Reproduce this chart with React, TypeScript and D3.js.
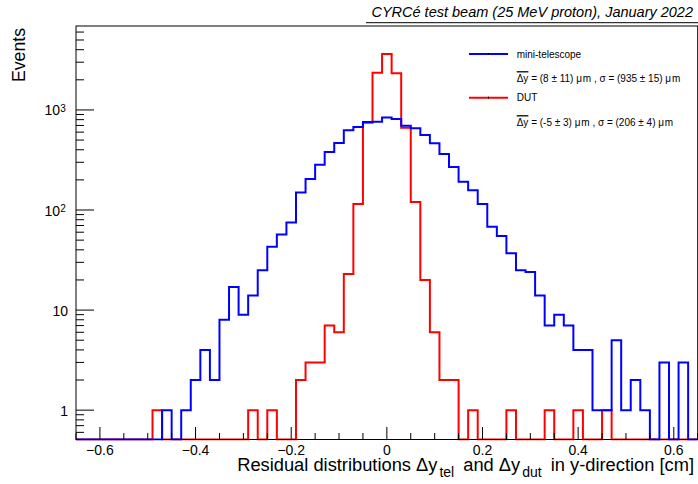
import React from "react";
import * as d3 from "d3";

// Bin centres (bin width 0.02 cm), from -0.64 to 0.64
const binCenters: number[] = [
  -0.64, -0.62, -0.6, -0.58, -0.56, -0.54, -0.52, -0.5, -0.48, -0.46, -0.44, -0.42, -0.4,
  -0.38, -0.36, -0.34, -0.32, -0.3, -0.28, -0.26, -0.24, -0.22, -0.2, -0.18, -0.16, -0.14,
  -0.12, -0.1, -0.08, -0.06, -0.04, -0.02, 0, 0.02, 0.04, 0.06, 0.08, 0.1, 0.12, 0.14, 0.16,
  0.18, 0.2, 0.22, 0.24, 0.26, 0.28, 0.3, 0.32, 0.34, 0.36, 0.38, 0.4, 0.42, 0.44, 0.46, 0.48,
  0.5, 0.52, 0.54, 0.56, 0.58, 0.6, 0.62, 0.64,
];
const binWidth = 0.02;

// mini-telescope residuals (blue)
const telescopeCounts: number[] = [
  0, 0, 0, 0, 0, 0, 0, 0, 0, 1, 0, 1, 2,
  4, 2, 8, 17, 9, 14, 25, 43, 57, 75, 150, 204, 284,
  380, 468, 627, 676, 759, 764, 840, 813, 697, 656, 562, 464, 363, 269, 192,
  158, 115, 68, 55, 37, 25, 24, 14, 7, 9, 7, 4, 4, 1, 1, 5,
  1, 2, 1, 0, 3, 0, 3, 0,
];

// DUT residuals (red)
const dutCounts: number[] = [
  0, 0, 0, 0, 0, 0, 0, 0, 1, 0, 0, 0, 0,
  0, 0, 0, 0, 0, 1, 0, 1, 0, 0, 2, 3, 3,
  7, 6, 23, 115, 746, 2360, 3630, 2327, 665, 120, 20, 6, 2, 2, 0,
  1, 0, 0, 0, 1, 0, 0, 0, 1, 0, 0, 1, 0, 0, 1, 0,
  0, 0, 0, 0, 0, 0, 0, 0,
];

const xTicks: number[] = [-0.6, -0.4, -0.2, 0, 0.2, 0.4, 0.6];
const xMinorTicks: number[] = [
  -0.65, -0.55, -0.5, -0.45, -0.35, -0.3, -0.25, -0.15, -0.1, -0.05,
  0.05, 0.1, 0.15, 0.25, 0.3, 0.35, 0.45, 0.5, 0.55, 0.65,
];
const yMajorTicks: number[] = [1, 10, 100, 1000];
const yMajorLabels: { base: string; exp: string }[] = [
  { base: "1", exp: "" },
  { base: "10", exp: "" },
  { base: "10", exp: "2" },
  { base: "10", exp: "3" },
];
const yMinorTicks: number[] = [
  0.6, 0.7, 0.8, 0.9, 2, 3, 4, 5, 6, 7, 8, 9, 20, 30, 40, 50, 60, 70, 80, 90,
  200, 300, 400, 500, 600, 700, 800, 900, 2000, 3000, 4000, 5000, 6000,
];

const titleText = "CYRCé test beam (25 MeV proton), January 2022";
const seriesNames = ["mini-telescope", "DUT"];
const statsTel = { mean: "(8 ± 11)", sigma: "(935 ± 15)" };
const statsDut = { mean: "(-5 ± 3)", sigma: "(206 ± 4)" };

const FONT = "'Liberation Sans', Arial, Helvetica, sans-serif";

export default function App() {
  const W = 698;
  const H = 484;
  const left = 76;
  const right = 697.7;
  const top = 26;
  const bottom = 439.5;

  const x = d3.scaleLinear().domain([-0.65, 0.65]).range([left, right]);
  const y = d3.scaleLog().domain([0.509, 6900]).range([bottom, top]);

  const stepPath = (counts: number[]) => {
    const pts: [number, number][] = [];
    counts.forEach((v, i) => {
      const c = binCenters[i];
      const yy = v > 0 ? y(v) : bottom;
      pts.push([x(c - binWidth / 2), yy]);
      pts.push([x(c + binWidth / 2), yy]);
    });
    return d3.line()(pts) as string;
  };

  const legendItem = (
    yLine: number,
    color: string,
    name: string,
    stats: { mean: string; sigma: string },
    yStats: number
  ) => (
    <g>
      <line x1={469} x2={508} y1={yLine} y2={yLine} stroke={color} strokeWidth={2} />
      <line x1={488.5} x2={488.5} y1={yLine - 1} y2={yLine + 1} stroke="#000" strokeWidth={1} />
      <text x={516.7} y={yLine + 3.5} fontSize={10} fontFamily={FONT} fill="#000">
        {name}
      </text>
      <text x={516.7} y={yStats + 3.5} fontSize={10} fontFamily={FONT} fill="#000">
        {`Δy = ${stats.mean} μ`}
        <tspan dx={0.8}>m</tspan>
        {` , σ = ${stats.sigma} μ`}
        <tspan dx={0.8}>m</tspan>
      </text>
      <line x1={516.7} x2={528.4} y1={yStats - 6.5} y2={yStats - 6.5} stroke="#000" strokeWidth={1.3} />
    </g>
  );

  return (
    <svg
      width={W}
      height={H}
      viewBox={`0 0 ${W} ${H}`}
      style={{ position: "absolute", left: 0, top: 0, background: "#fff" }}
    >
      <rect x={0} y={0} width={W} height={H} fill="#fff" />
      <defs>
        <clipPath id="plotclip">
          <rect x={left} y={top - 1} width={right - left} height={bottom - top + 2} />
        </clipPath>
      </defs>

      {/* title */}
      <text
        x={693}
        y={17}
        textAnchor="end"
        fontSize={14.5}
        fontStyle="italic"
        fontFamily={FONT}
        fill="#000"
      >
        {titleText}
      </text>
      <line x1={366} x2={698} y1={22.7} y2={22.7} stroke="#000" strokeWidth={1} />

      {/* histograms */}
      <g clipPath="url(#plotclip)">
        <path d={stepPath(dutCounts)} fill="none" stroke="#ff0000" strokeWidth={2} />
        <path d={stepPath(telescopeCounts)} fill="none" stroke="#0000ff" strokeWidth={2} />
      </g>

      {/* frame */}
      <rect
        x={left}
        y={top}
        width={right - left}
        height={bottom - top}
        fill="none"
        stroke="#000"
        strokeWidth={1}
      />

      {/* x axis ticks */}
      {xTicks.map((t) => (
        <g key={`xt${t}`}>
          <line x1={x(t)} x2={x(t)} y1={bottom} y2={bottom - 12.5} stroke="#000" strokeWidth={1} />
          <text
            x={x(t)}
            y={455}
            textAnchor="middle"
            fontSize={14}
            fontFamily={FONT}
            fill="#000"
          >
            {t < 0 ? `−${Math.abs(t)}` : `${t}`}
          </text>
        </g>
      ))}
      {xMinorTicks.map((t) => (
        <line
          key={`xm${t}`}
          x1={x(t)}
          x2={x(t)}
          y1={bottom}
          y2={bottom - 6.5}
          stroke="#000"
          strokeWidth={1}
        />
      ))}

      {/* y axis ticks */}
      {yMajorTicks.map((t, i) => (
        <g key={`yt${t}`}>
          <line x1={left} x2={left + 18} y1={y(t)} y2={y(t)} stroke="#000" strokeWidth={1} />
          <text
            x={yMajorLabels[i].exp ? 60 : 68}
            y={y(t) + 5.5}
            textAnchor="end"
            fontSize={14}
            fontFamily={FONT}
            fill="#000"
          >
            {yMajorLabels[i].base}
          </text>
          {yMajorLabels[i].exp && (
            <text x={60.3} y={y(t) + 2} fontSize={10} fontFamily={FONT} fill="#000">
              {yMajorLabels[i].exp}
            </text>
          )}
        </g>
      ))}
      {yMinorTicks.map((t) => (
        <line
          key={`ym${t}`}
          x1={left}
          x2={left + 8}
          y1={y(t)}
          y2={y(t)}
          stroke="#000"
          strokeWidth={1}
        />
      ))}

      {/* axis titles */}
      <text
        transform="translate(25,28) rotate(-90)"
        textAnchor="end"
        fontSize={17.7}
        fontFamily={FONT}
        fill="#000"
      >
        Events
      </text>
      <text x={694} y={471} textAnchor="end" fontSize={18.3} fontFamily={FONT} fill="#000">
        Residual distributions Δy
        <tspan fontSize={14} dx={2} dy={6}>tel</tspan>
        <tspan dx={4} dy={-6}> and Δy</tspan>
        <tspan fontSize={14} dx={2} dy={6}>dut</tspan>
        <tspan dx={4} dy={-6}> in y-direction [cm]</tspan>
      </text>

      {/* legend */}
      {legendItem(54, "#0000ff", seriesNames[0], statsTel, 78.3)}
      {legendItem(97.7, "#ff0000", seriesNames[1], statsDut, 122.3)}
    </svg>
  );
}
